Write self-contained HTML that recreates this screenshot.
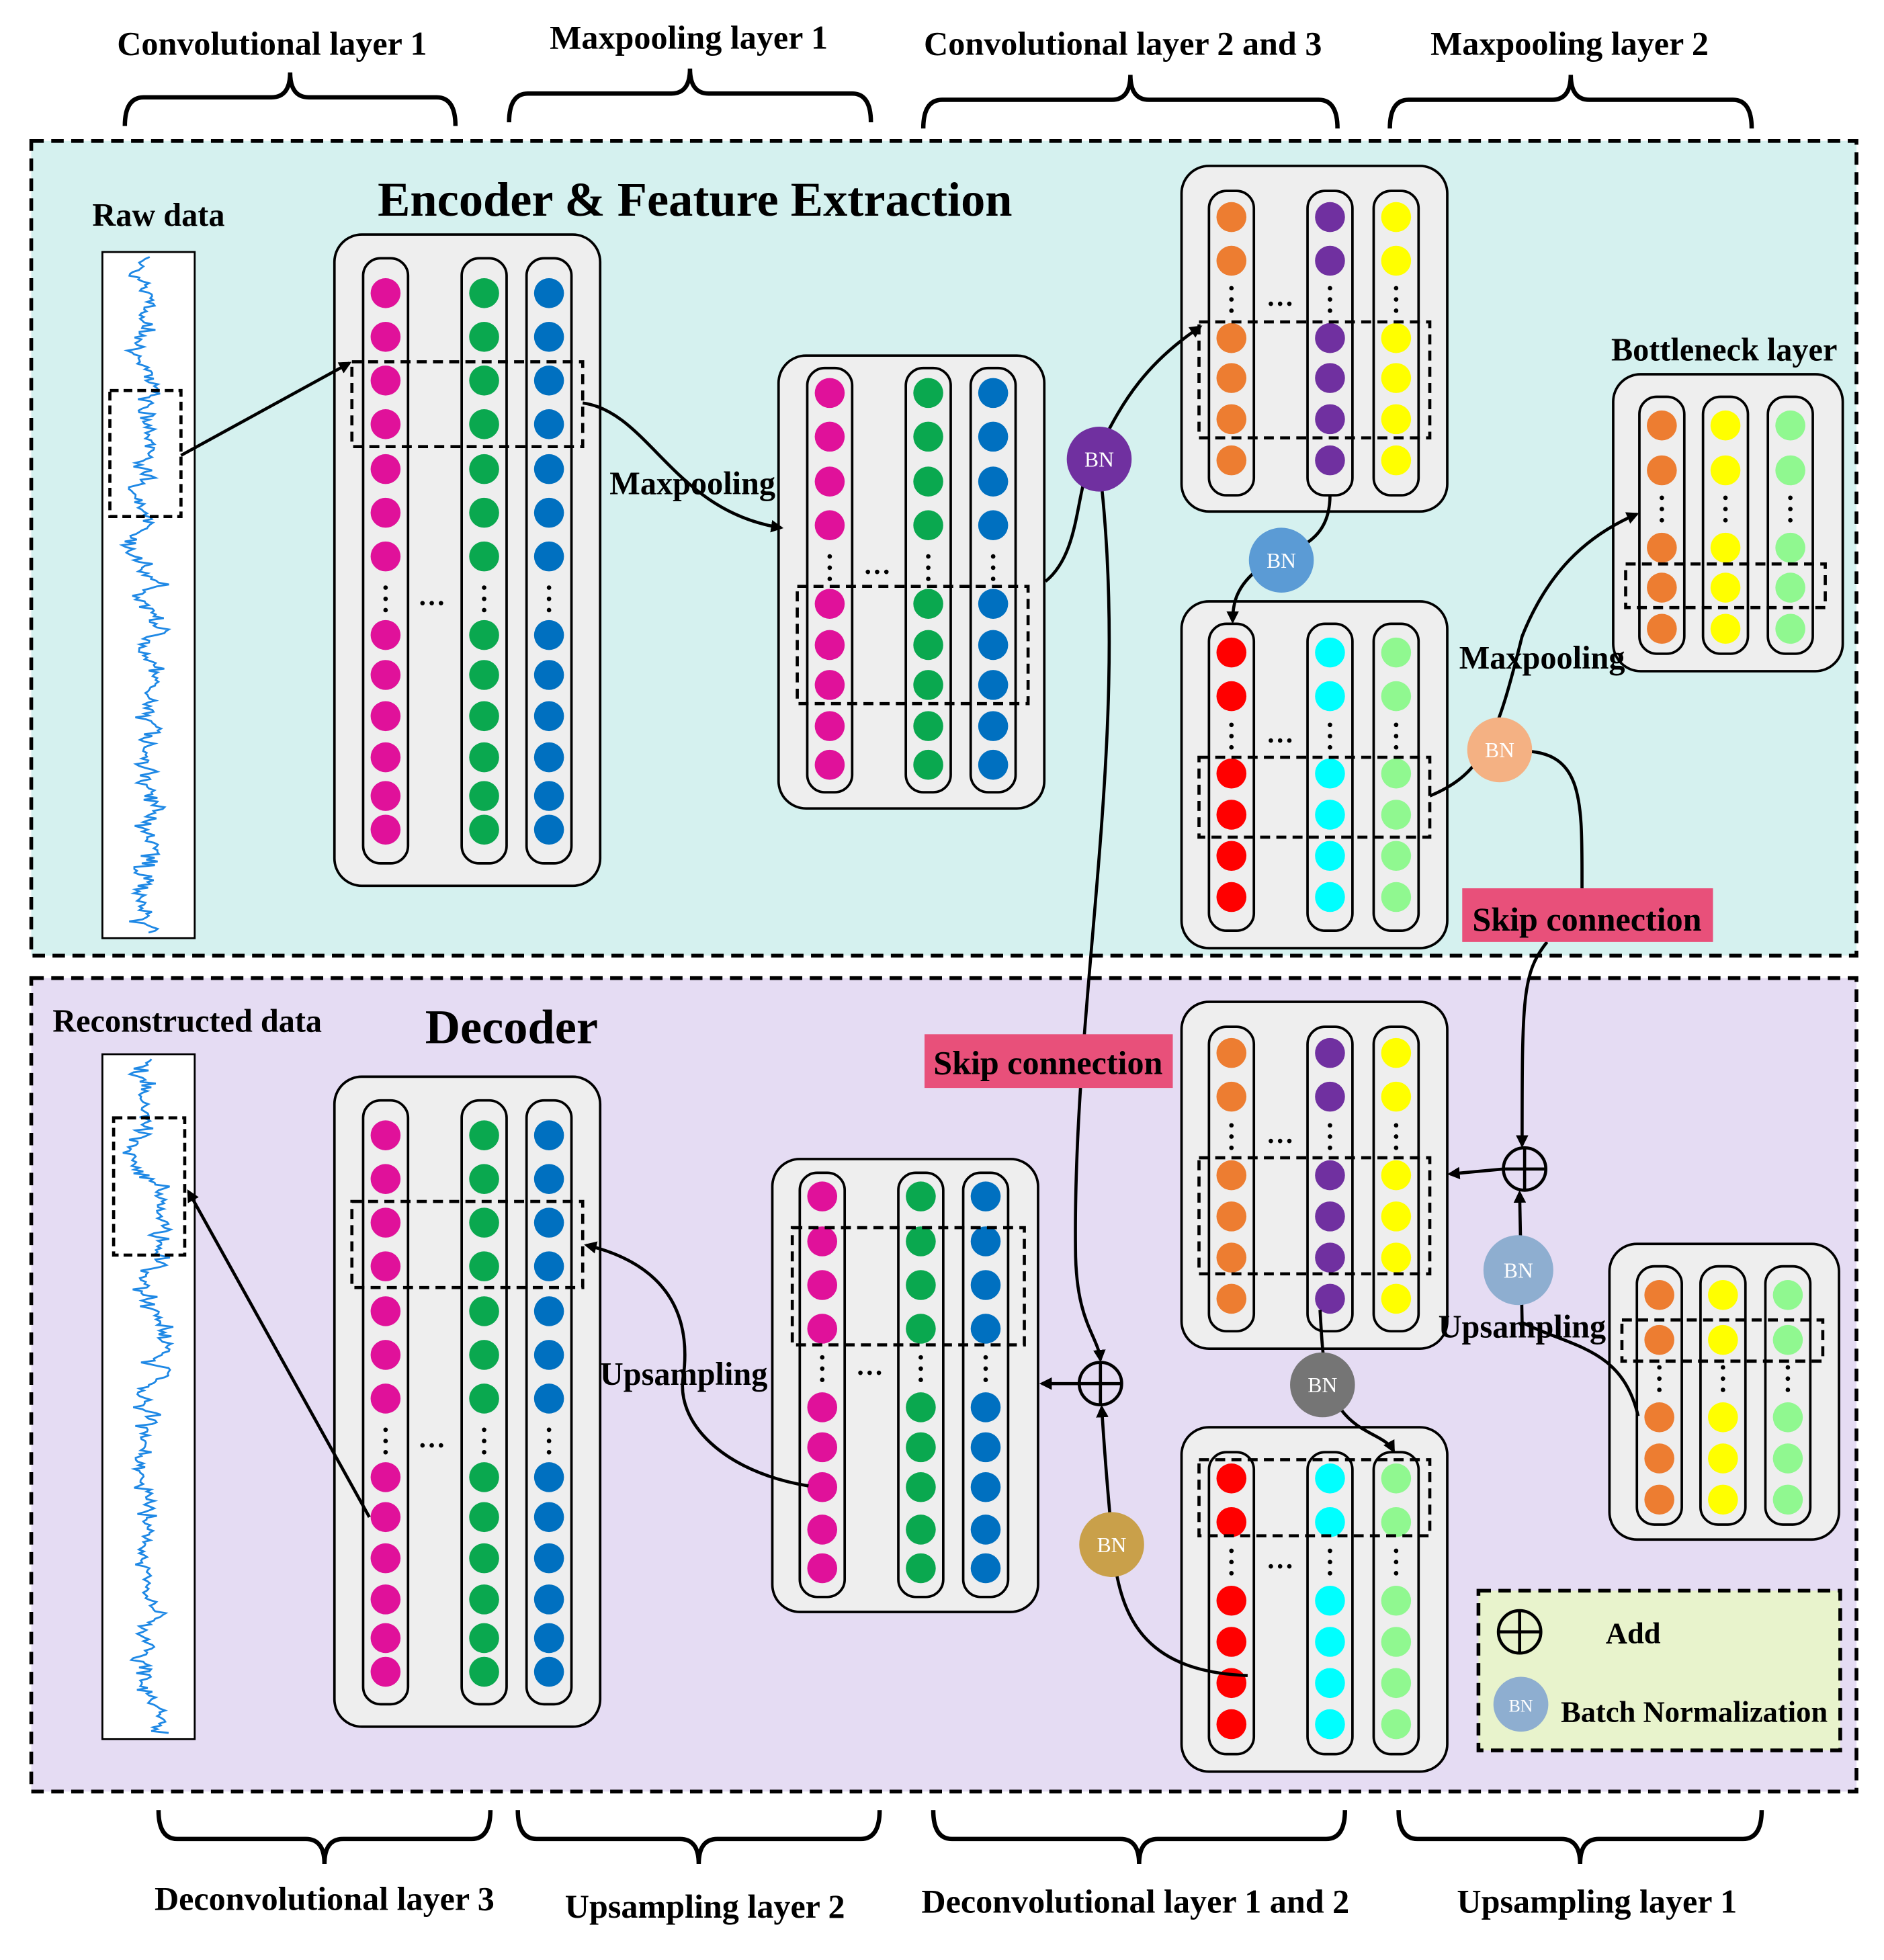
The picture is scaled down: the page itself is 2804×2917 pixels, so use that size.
<!DOCTYPE html>
<html><head><meta charset="utf-8">
<style>
html,body{margin:0;padding:0;background:#fff;}
svg{display:block;}
text{font-family:"Liberation Serif",serif;font-weight:bold;fill:#000;}
</style></head>
<body>
<svg id="s" width="2804" height="2917" viewBox="0 0 1510 1571" xmlns="http://www.w3.org/2000/svg">
<defs>
<marker id="ar" markerWidth="10" markerHeight="10" refX="8" refY="5" orient="auto" markerUnits="userSpaceOnUse">
<path d="M0,0 L10,5 L0,10 z" fill="#000"/></marker>
</defs>
<rect x="25" y="113" width="1463" height="653" fill="#d5f1ef" stroke="#000" stroke-width="3" stroke-dasharray="10,6"/>
<rect x="25" y="784" width="1463" height="652" fill="#e5dcf3" stroke="#000" stroke-width="3" stroke-dasharray="10,6"/>
<g id="g"></g>
<g font-size="27">
<text x="218" y="44" text-anchor="middle">Convolutional layer 1</text>
<text x="552" y="39" text-anchor="middle">Maxpooling layer 1</text>
<text x="900" y="44" text-anchor="middle">Convolutional layer 2 and 3</text>
<text x="1258" y="44" text-anchor="middle">Maxpooling layer 2</text>
<text x="260" y="1531" text-anchor="middle">Deconvolutional layer 3</text>
<text x="565" y="1537" text-anchor="middle">Upsampling layer 2</text>
<text x="910" y="1533" text-anchor="middle">Deconvolutional layer 1 and 2</text>
<text x="1280" y="1533" text-anchor="middle">Upsampling layer 1</text>
</g>
<text x="557" y="173" font-size="39" text-anchor="middle">Encoder &amp; Feature Extraction</text>
<text x="410" y="836" font-size="39" text-anchor="middle">Decoder</text>
<g font-size="26">
<text x="127" y="181" text-anchor="middle">Raw data</text>
<text x="150" y="827" text-anchor="middle">Reconstructed data</text>
<text x="1382" y="289" text-anchor="middle">Bottleneck layer</text>
<text x="555" y="396" text-anchor="middle">Maxpooling</text>
<text x="1236" y="536" text-anchor="middle">Maxpooling</text>
<text x="1220" y="1072" text-anchor="middle">Upsampling</text>
<text x="548" y="1110" text-anchor="middle">Upsampling</text>
</g>
</svg>
<script>
var g=document.getElementById('g'),h='';
function A(s){h+=s;}
function brace(x1,x2,y,d){
 var m=(x1+x2)/2,e=y+d*43,t=y, r=15;
 var q=y+d*20;
 A('<path d="M'+x1+','+e+' Q'+x1+','+q+' '+(x1+r)+','+q+' L'+(m-r)+','+q+' Q'+m+','+q+' '+m+','+t+' Q'+m+','+q+' '+(m+r)+','+q+' L'+(x2-r)+','+q+' Q'+x2+','+q+' '+x2+','+e+'" fill="none" stroke="#000" stroke-width="3.5"/>');
}
brace(100,365,58,1);brace(408,698,55,1);brace(740,1072,60,1);brace(1114,1404,60,1);
brace(127,393,1494,-1);brace(415,705,1494,-1);brace(748,1078,1494,-1);brace(1121,1412,1494,-1);
function wave(x,y,w,hh,seed){
 A('<rect x="'+x+'" y="'+y+'" width="'+w+'" height="'+hh+'" fill="#fff" stroke="#000" stroke-width="1.5"/>');
 var s=seed,p='',v=0;function r(){s=(s*9301+49297)%233280;return s/233280;}
 for(var i=0;i<hh-8;i+=1.5){v+= (r()-0.5)*10; v*=0.93; var sp=(r()-0.5)*(r()<0.4?16:4);
  var xx=x+w/2+Math.max(-w/2+4,Math.min(w/2-4,v+sp));p+=(i?'L':'M')+xx.toFixed(1)+','+(y+4+i).toFixed(1);}
 A('<path d="'+p+'" fill="none" stroke="#1e88e5" stroke-width="1.5"/>');
}
wave(82,202,74,550,7);wave(82,845,74,549,13);
A('<rect x="88" y="313" width="57" height="101" fill="none" stroke="#000" stroke-width="2.5" stroke-dasharray="7,4"/>');
A('<rect x="91" y="896" width="57" height="110" fill="none" stroke="#000" stroke-width="2.5" stroke-dasharray="7,4"/>');
function mod(bx,by,bw,bh,cols,py1,py2,ys,dotY,colors,dash,ell){
 A('<rect x="'+bx+'" y="'+by+'" width="'+bw+'" height="'+bh+'" rx="22" fill="#eeeeee" stroke="#000" stroke-width="2"/>');
 cols.forEach(function(c,i){
  A('<rect x="'+(c-18)+'" y="'+py1+'" width="36" height="'+(py2-py1)+'" rx="14" fill="#eeeeee" stroke="#000" stroke-width="2"/>');
  ys.forEach(function(y){A('<circle cx="'+c+'" cy="'+y+'" r="12" fill="'+colors[i]+'"/>');});
  for(var k=-1;k<=1;k++)A('<circle cx="'+c+'" cy="'+(dotY+k*9)+'" r="1.8" fill="#000"/>');
 });
 if(ell)A('<text x="'+ell[0]+'" y="'+ell[1]+'" font-size="22" text-anchor="middle">…</text>');
 A('<rect x="'+dash[0]+'" y="'+dash[1]+'" width="'+(dash[2]-dash[0])+'" height="'+(dash[3]-dash[1])+'" fill="none" stroke="#000" stroke-width="2.5" stroke-dasharray="8,5"/>');
}
var M=['#e0119a','#0aa84f','#0070c0'],O=['#ed7d31','#7030a0','#ffff00'],R=['#ff0000','#00ffff','#90f890'],B=['#ed7d31','#ffff00','#90f890'];
var ya=[235,270,305,340,376,411,446,509,541,574,607,638,665];
mod(268,188,213,522,[309,388,440],207,692,ya,480,M,[282,290,467,358],[346,485]);
mod(268,863,213,521,[309,388,440],882,1366,ya.map(function(y){return y+675;}),1155,M,[282,963,467,1032],[346,1160]);
mod(624,285,213,363,[665,744,796],295,635,[315,350,386,421,484,517,549,582,613],455,M,[639,470,824,564],[703,460]);
mod(619,929,213,363,[659,738,790],940,1280,[959,995,1030,1065,1128,1160,1192,1226,1257],1097,M,[635,984,821,1078],[697,1102]);
mod(947,133,213,277,[987,1066,1119],153,397,[174,209,271,303,336,369],240,O,[961,258,1146,351],[1026,245]);
mod(947,803,213,278,[987,1066,1119],823,1067,[844,879,942,975,1008,1041],911,O,[961,928,1146,1021],[1026,916]);
mod(947,482,213,278,[987,1066,1119],500,746,[523,558,620,653,686,719],590,R,[961,607,1146,671],[1026,595]);
mod(947,1144,213,276,[987,1066,1119],1164,1406,[1185,1220,1283,1316,1349,1382],1252,R,[961,1170,1146,1231],[1026,1257]);
mod(1293,300,184,238,[1332,1383,1435],318,524,[341,377,439,471,504],408,B,[1303,452,1463,487],null);
mod(1290,997,184,237,[1330,1381,1433],1015,1222,[1038,1074,1136,1169,1202],1105,B,[1300,1058,1461,1091],null);
function P(d,arrow){A('<path d="'+d+'" fill="none" stroke="#000" stroke-width="2.5"'+(arrow?' marker-end="url(#ar)"':'')+'/>');}
P('M145,365 L280,291',1);
P('M467,323 C520,330 540,410 626,423',1);
P('M838,466 C870,440 860,380 881,360 C900,320 920,290 962,262',1);
P('M1066,397 C1066,440 1030,440 1010,455 C990,470 988,485 988,498',1);
P('M1146,638 C1190,620 1200,590 1220,510 C1240,460 1270,430 1312,412',1);
P('M1215,602 C1270,600 1268,640 1268,712');
P('M1240,755 C1220,780 1220,800 1220,918',1);
P('M1205,937 L1162,941',1);
P('M1313,1135 C1300,1080 1260,1080 1220,1060 L1218,956',1);
P('M1058,1050 C1060,1080 1060,1110 1075,1130 C1090,1150 1110,1150 1117,1163',1);
P('M1000,1343 C920,1340 900,1300 893,1250 C888,1200 885,1160 883,1128',1);
P('M883,390 C905,600 860,800 862,1000 C862,1060 880,1070 882,1090',1);
P('M865,1109 L835,1109',1);
P('M648,1191 C580,1180 540,1140 548,1101 C555,1040 520,1010 470,998',1);
P('M296,1216 L151,955',1);
function bn(x,y,r,c,fs){A('<circle cx="'+x+'" cy="'+y+'" r="'+r+'" fill="'+c+'"/><text x="'+x+'" y="'+(y+6)+'" font-size="'+(fs||17)+'" text-anchor="middle" style="font-weight:normal;fill:#fff">BN</text>');}
bn(881,368,26,'#7030a0');bn(1027,449,26,'#5b9bd5');bn(1202,601,26,'#f4b183');bn(1217,1018,28,'#8eaed0');bn(1060,1110,26,'#757575');bn(891,1238,26,'#c9a04a');
function add(x,y){A('<circle cx="'+x+'" cy="'+y+'" r="17" fill="none" stroke="#000" stroke-width="2.5"/><path d="M'+(x-17)+','+y+'H'+(x+17)+'M'+x+','+(y-17)+'V'+(y+17)+'" stroke="#000" stroke-width="2.5"/>');}
add(1222,937);add(882,1109);
A('<rect x="1172" y="712" width="201" height="43" fill="#e8507a"/><text x="1272" y="746" font-size="27" text-anchor="middle">Skip connection</text>');
A('<rect x="741" y="829" width="199" height="43" fill="#e8507a"/><text x="840" y="861" font-size="27" text-anchor="middle">Skip connection</text>');
A('<rect x="1185" y="1275" width="290" height="128" fill="#e8f3cc" stroke="#000" stroke-width="3" stroke-dasharray="10,6"/>');
add(1218,1308);
A('<text x="1309" y="1317" font-size="24" text-anchor="middle">Add</text>');
bn(1219,1366,22,'#8eaed0',14);
A('<text x="1358" y="1380" font-size="24" text-anchor="middle">Batch Normalization</text>');
g.innerHTML=h;
</script>
</body></html>
